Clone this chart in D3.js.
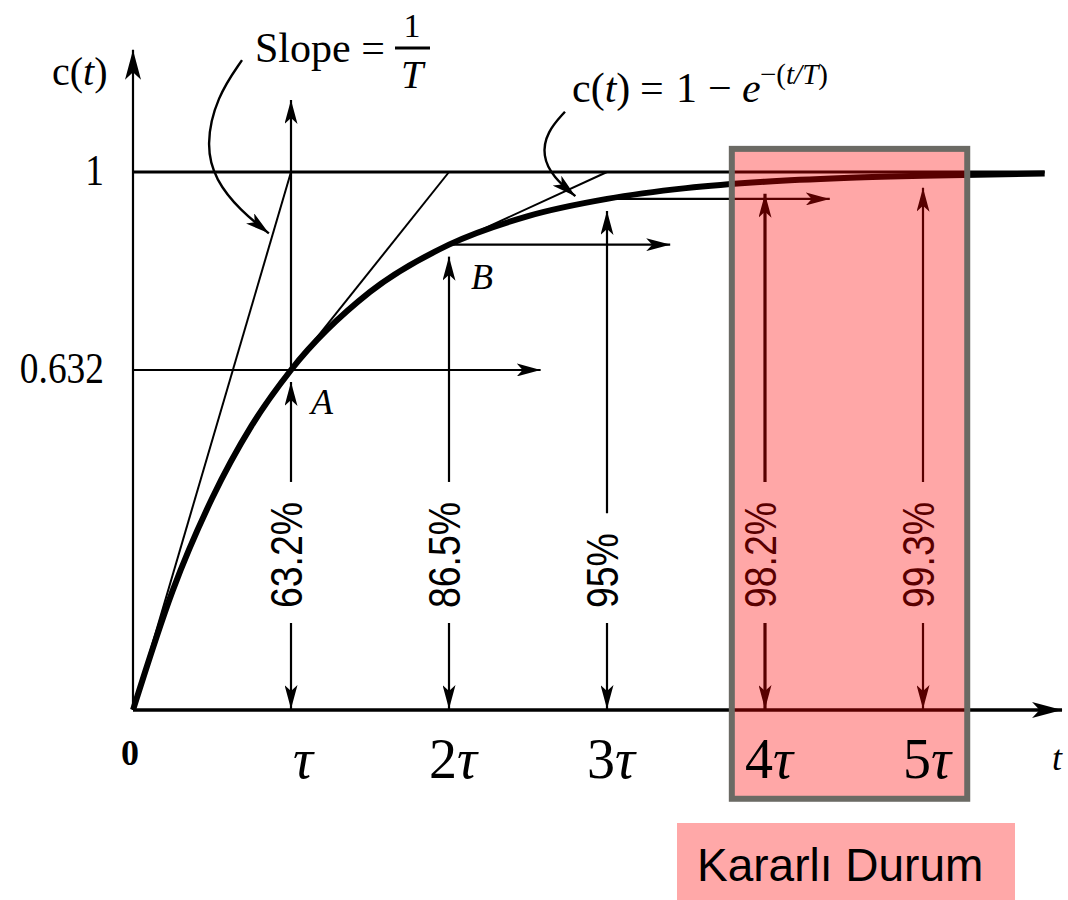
<!DOCTYPE html>
<html>
<head>
<meta charset="utf-8">
<script src="https://cdn.jsdelivr.net/npm/d3@7"></script>
<style>
  body { margin: 0; background: #fff; }
  svg { display: block; }
</style>
</head>
<body>
<svg id="chart" width="1068" height="900"></svg>
<script>
// Step response of a first-order system, time measured in time constants (τ)
const tSamples = [0, 0.25, 0.5, 0.75, 1, 1.5, 2, 2.5, 3, 3.5, 4, 4.5, 5, 5.77];
const cSamples = [0, 0.221, 0.393, 0.528, 0.632, 0.777, 0.865, 0.918, 0.95, 0.970, 0.982, 0.989, 0.993, 0.997];

const markTimes  = [1, 2, 3, 4, 5];
const markValues = [0.632, 0.865, 0.95, 0.982, 0.993];
const markLabels = ["63.2%", "86.5%", "95%", "98.2%", "99.3%"];
const tickLabels = ["", "2", "3", "4", "5"];   // multiplier in front of τ

const yTickValues = [0.632, 1];
const yTickLabels = ["0.632", "1"];

const levelArrowStarts = [0, 2, 3];          // horizontal arrows at A, B and 3τ
const levelArrowValues = [0.632, 0.865, 0.95];
const levelArrowEnds   = [2.58, 3.40, 4.41];

const steadyBand = [3.79, 5.28];              // "Kararlı Durum" time window
const steadyBandC = [-0.165, 1.043];

const svg = d3.select("#chart");
const serif = "'Liberation Serif', 'DejaVu Serif', serif";
const sans  = "'Liberation Sans', Arial, sans-serif";

const x = d3.scaleLinear().domain([0, 1]).range([133, 291]);
const y = d3.scaleLinear().domain([0, 1]).range([710, 172]);

// arrowhead markers
const defs = svg.append("defs");
function marker(id, len, wid, color) {
  defs.append("marker")
    .attr("id", id)
    .attr("viewBox", `0 ${-wid / 2} ${len} ${wid}`)
    .attr("refX", len).attr("refY", 0)
    .attr("markerWidth", len).attr("markerHeight", wid)
    .attr("markerUnits", "userSpaceOnUse")
    .attr("orient", "auto")
    .append("path")
    .attr("d", `M0,${-wid / 2}L${len},0L0,${wid / 2}L${len * 0.25},0Z`)
    .attr("fill", color);
}
marker("head", 24, 13, "#000");
marker("axisHead", 30, 16, "#000");

const g = svg.append("g");

// axes
g.append("line")
  .attr("x1", x(0)).attr("y1", y(0)).attr("x2", x(0)).attr("y2", y(1.227))
  .attr("stroke", "#000").attr("stroke-width", 2.2).attr("marker-end", "url(#axisHead)");
g.append("line")
  .attr("x1", x(0)).attr("y1", y(0)).attr("x2", x(5.88)).attr("y2", y(0))
  .attr("stroke", "#000").attr("stroke-width", 3.5).attr("marker-end", "url(#axisHead)");

// final value line c = 1
g.append("line")
  .attr("x1", x(0)).attr("y1", y(1)).attr("x2", x(5.77)).attr("y2", y(1))
  .attr("stroke", "#000").attr("stroke-width", 2.8);

// initial slope 1/T and tangents at A and B
const tangents = [[0, 0, 1, 1], [1, 0.632, 2, 1], [2, 0.865, 3, 1]];
g.selectAll(".tangent").data(tangents).enter().append("line")
  .attr("x1", d => x(d[0])).attr("y1", d => y(d[1]))
  .attr("x2", d => x(d[2])).attr("y2", d => y(d[3]))
  .attr("stroke", "#000").attr("stroke-width", 2);

// vertical guide through A
g.append("line")
  .attr("x1", x(1)).attr("y1", y(0.632)).attr("x2", x(1)).attr("y2", y(1.134))
  .attr("stroke", "#000").attr("stroke-width", 2.2).attr("marker-end", "url(#head)");

// horizontal level arrows
levelArrowStarts.forEach((t0, i) => {
  g.append("line")
    .attr("x1", x(t0)).attr("y1", y(levelArrowValues[i]))
    .attr("x2", x(levelArrowEnds[i])).attr("y2", y(levelArrowValues[i]))
    .attr("stroke", "#000").attr("stroke-width", 2.2).attr("marker-end", "url(#head)");
});

// response curve
const curve = d3.line().x(d => x(d[0])).y(d => y(d[1])).curve(d3.curveMonotoneX);
g.append("path")
  .datum(tSamples.map((t, i) => [t, cSamples[i]]))
  .attr("d", curve)
  .attr("fill", "none").attr("stroke", "#000").attr("stroke-width", 6);

// percentage dimension arrows
const labelBase = 608;
markTimes.forEach((t, i) => {
  const xi = x(t);
  const txt = g.append("text")
    .attr("transform", `translate(${xi + 11},${labelBase}) rotate(-90) scale(0.85,1)`)
    .attr("font-family", sans).attr("font-size", 44)
    .attr("fill", "#000")
    .text(markLabels[i]);
  const len = txt.node().getComputedTextLength() * 0.85;
  const sw = i === 3 ? 3.2 : 2.2;
  // lower part: arrow down to the time axis
  g.append("line")
    .attr("x1", xi).attr("y1", labelBase + 15).attr("x2", xi).attr("y2", y(0) - 1)
    .attr("stroke", "#000").attr("stroke-width", sw).attr("marker-end", "url(#head)");
  // upper part: arrow up to the response curve
  g.append("line")
    .attr("x1", xi).attr("y1", labelBase - len - 20).attr("x2", xi).attr("y2", y(markValues[i]) + 12)
    .attr("stroke", "#000").attr("stroke-width", sw).attr("marker-end", "url(#head)");
});

// callout leaders
const leader = d3.line().x(d => x(d[0])).y(d => y(d[1])).curve(d3.curveBasis);
const slopeLeader = [[0.69, 1.208], [0.53, 1.14], [0.46, 1.05], [0.52, 0.985], [0.68, 0.928], [0.86, 0.886]];
const respLeader = [[2.734, 1.112], [2.62, 1.075], [2.59, 1.03], [2.66, 0.99], [2.80, 0.955]];
[slopeLeader, respLeader].forEach(pts => {
  g.append("path").datum(pts).attr("d", leader)
    .attr("fill", "none").attr("stroke", "#000").attr("stroke-width", 2.4)
    .attr("marker-end", "url(#head)");
});

// point letters
g.append("text").attr("x", x(1) + 20).attr("y", y(0.632) + 44)
  .attr("font-family", serif).attr("font-style", "italic").attr("font-size", 36).text("A");
g.append("text").attr("x", x(2) + 22).attr("y", y(0.865) + 44)
  .attr("font-family", serif).attr("font-style", "italic").attr("font-size", 36).text("B");

// steady-state band: translucent red overlay with grey frame
svg.append("rect")
  .attr("x", x(steadyBand[0])).attr("y", y(steadyBandC[1]))
  .attr("width", x(steadyBand[1]) - x(steadyBand[0]))
  .attr("height", y(steadyBandC[0]) - y(steadyBandC[1]))
  .attr("fill", "rgb(255,0,0)").attr("fill-opacity", 0.345)
  .attr("stroke", "#6b6a64").attr("stroke-width", 6);

// time axis labels
const tl = svg.append("g");
markTimes.forEach((t, i) => {
  const txt = tl.append("text")
    .attr("x", x(t) + (i === 0 ? 12 : 4)).attr("y", 778)
    .attr("text-anchor", "middle")
    .attr("font-family", serif).attr("font-size", 56);
  if (tickLabels[i]) txt.append("tspan").text(tickLabels[i]);
  txt.append("tspan").attr("font-style", "italic").text("τ");
});
tl.append("text").attr("x", x(0) - 3).attr("y", 765).attr("text-anchor", "middle")
  .attr("font-family", serif).attr("font-weight", "bold").attr("font-size", 36).text("0");
tl.append("text").attr("x", 1052).attr("y", 770)
  .attr("font-family", serif).attr("font-style", "italic").attr("font-size", 36).text("t");

// value axis labels
yTickValues.forEach((v, i) => {
  svg.append("text")
    .attr("transform", `translate(104,${y(v) + 13}) scale(0.85,1)`)
    .attr("text-anchor", "end")
    .attr("font-family", serif).attr("font-size", 44)
    .text(yTickLabels[i]);
});

// axis title c(t)
const yt = svg.append("text").attr("x", 52).attr("y", 85)
  .attr("font-family", serif).attr("font-size", 40);
yt.append("tspan").text("c(");
yt.append("tspan").attr("font-style", "italic").text("t");
yt.append("tspan").text(")");

// slope annotation
svg.append("text").attr("x", 255).attr("y", 62)
  .attr("font-family", serif).attr("font-size", 42).text("Slope =");
svg.append("text").attr("x", 412).attr("y", 37).attr("text-anchor", "middle")
  .attr("font-family", serif).attr("font-size", 34).text("1");
svg.append("line").attr("x1", 395).attr("x2", 430).attr("y1", 48).attr("y2", 48)
  .attr("stroke", "#000").attr("stroke-width", 3);
svg.append("text").attr("x", 412).attr("y", 88).attr("text-anchor", "middle")
  .attr("font-family", serif).attr("font-style", "italic").attr("font-size", 40).text("T");

// response formula, laid out piece by piece
const fmPieces = [
  { x: 572, parts: [["c(", false], ["t", true], [")", false]] },
  { x: 640, parts: [["=", false]] },
  { x: 676, parts: [["1", false]] },
  { x: 708, parts: [["−", false]] },
  { x: 742, parts: [["e", true]] }
];
fmPieces.forEach(p => {
  const t = svg.append("text").attr("x", p.x).attr("y", 102)
    .attr("font-family", serif).attr("font-size", 42);
  p.parts.forEach(([s, it]) => t.append("tspan").attr("font-style", it ? "italic" : "normal").text(s));
});
const sup = svg.append("text").attr("x", 760).attr("y", 84)
  .attr("font-family", serif).attr("font-size", 29);
sup.append("tspan").text("−(");
sup.append("tspan").attr("font-style", "italic").text("t/T");
sup.append("tspan").text(")");

// steady-state caption
svg.append("rect").attr("x", 677).attr("y", 823).attr("width", 338).attr("height", 77)
  .attr("fill", "#ffa8a8");
svg.append("text").attr("x", 697).attr("y", 881)
  .attr("font-family", sans).attr("font-size", 46).attr("fill", "#000")
  .text("Kararlı Durum");
</script>
</body>
</html>
